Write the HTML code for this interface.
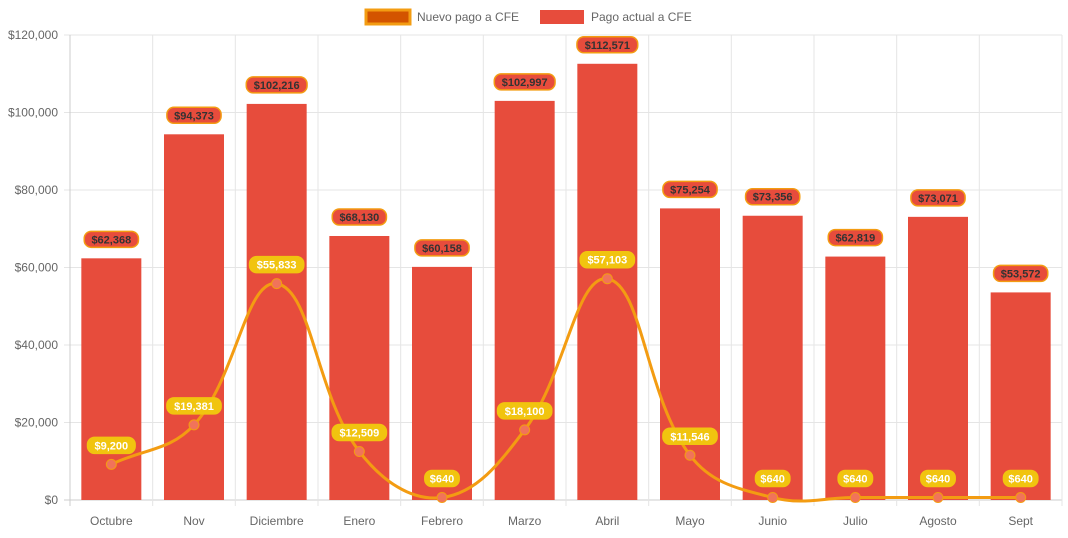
<!DOCTYPE html>
<html><head><meta charset="utf-8"><style>
body{margin:0;background:#fff;font-family:"Liberation Sans",Arial,sans-serif}
</style></head><body>
<svg id="c" width="1068" height="533" xmlns="http://www.w3.org/2000/svg" font-family="Liberation Sans, Arial, sans-serif"></svg>
<script>
const categories=["Octubre","Nov","Diciembre","Enero","Febrero","Marzo","Abril","Mayo","Junio","Julio","Agosto","Sept"];
const actual=[62368,94373,102216,68130,60158,102997,112571,75254,73356,62819,73071,53572];
const nuevo=[9200,19381,55833,12509,640,18100,57103,11546,640,640,640,640];
const yTicks=[0,20000,40000,60000,80000,100000,120000];
const L=70,R=1062,T=35,B=500,MAX=120000;
const svg=document.getElementById('c');const NS='http://www.w3.org/2000/svg';
const bw=(R-L)/categories.length;
const x=i=>L+bw*(i+0.5);
const y=v=>B-(v/MAX)*(B-T);
const fmt=v=>'$'+v.toLocaleString('en-US');
function mk(t,a,p){const e=document.createElementNS(NS,t);for(const k in a)e.setAttribute(k,a[k]);(p||svg).appendChild(e);return e;}
// grid
const grid=mk('g',{});
yTicks.forEach(v=>{mk('line',{x1:L-6,x2:R,y1:y(v),y2:y(v),stroke:v===0?'#ccc':'#e5e5e5'},grid);
const t=mk('text',{x:L-12,y:y(v)+4,'text-anchor':'end','font-size':12,fill:'#666'});t.textContent=fmt(v);
});
for(let i=0;i<=categories.length;i++){mk('line',{x1:L+bw*i,x2:L+bw*i,y1:T,y2:B+6,stroke:i===0?'#ccc':'#e5e5e5'},grid);}
categories.forEach((c,i)=>{const t=mk('text',{x:x(i),y:525,'text-anchor':'middle','font-size':12,fill:'#666'});t.textContent=c;
});
// bars
actual.forEach((v,i)=>{const r=mk('rect',{x:x(i)-30,y:y(v),width:60,height:B-y(v),fill:'#e74c3c'});
});
// line (chart.js-like tension 0.4)
const pts=nuevo.map((v,i)=>[x(i),y(v)]);
let d='M'+pts[0][0]+','+pts[0][1];
function cp(p0,p1,p2){const t=0.4;const d01=Math.hypot(p1[0]-p0[0],p1[1]-p0[1]),d12=Math.hypot(p2[0]-p1[0],p2[1]-p1[1]);
let fa=d01/(d01+d12)||0,fb=d12/(d01+d12)||0;fa*=t;fb*=t;
return [[p1[0]-fa*(p2[0]-p0[0]),p1[1]-fa*(p2[1]-p0[1])],[p1[0]+fb*(p2[0]-p0[0]),p1[1]+fb*(p2[1]-p0[1])]];}
const cps=pts.map((p,i)=>cp(pts[Math.max(0,i-1)],p,pts[Math.min(pts.length-1,i+1)]));
for(let i=1;i<pts.length;i++){const a=cps[i-1][1],b=cps[i][0];d+=' C'+a[0]+','+a[1]+' '+b[0]+','+b[1]+' '+pts[i][0]+','+pts[i][1];}
const ln=mk('path',{d:d,fill:'none',stroke:'#f39c12','stroke-width':3});

pts.forEach((p,i)=>{const c=mk('circle',{cx:p[0],cy:p[1],r:5,fill:'#f1735a',stroke:'#f39c12','stroke-width':1});
});
// labels
function label(cx,cy,txt,bg,border,col){const w=txt.length*6.6+8;
mk('rect',{x:cx-w/2,y:cy-8,width:w,height:16,rx:7,fill:bg,stroke:border,'stroke-width':1.5});
const t=mk('text',{x:cx,y:cy+4,'text-anchor':'middle','font-size':11,'font-weight':'bold',fill:col});t.textContent=txt;
}
actual.forEach((v,i)=>label(x(i),y(v)-19,fmt(v),'#e74c3c','#f39c12','#333'));
nuevo.forEach((v,i)=>label(x(i),y(v)-19,fmt(v),'#f1c40f','#f1c40f','#fff'));
// legend
const lg=mk('g',{});
mk('rect',{x:366,y:10,width:44,height:14,fill:'#d35400',stroke:'#f39c12','stroke-width':3},lg);
let t=mk('text',{x:417,y:21,'font-size':12,fill:'#666'},lg);t.textContent='Nuevo pago a CFE';

mk('rect',{x:540,y:10,width:44,height:14,fill:'#e74c3c'},lg);
t=mk('text',{x:591,y:21,'font-size':12,fill:'#666'},lg);t.textContent='Pago actual a CFE';

</script>
</body></html>
